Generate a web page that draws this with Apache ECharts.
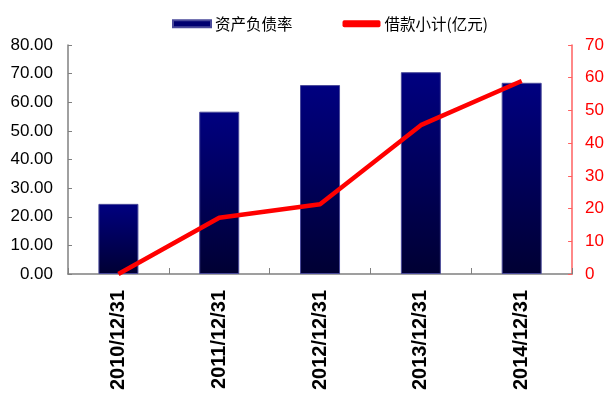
<!DOCTYPE html>
<html><head><meta charset="utf-8">
<script src="https://cdn.jsdelivr.net/npm/echarts@6/dist/echarts.min.js"></script>
<style>html,body{margin:0;padding:0;background:#fff}#c{width:607px;height:394px}</style>
</head><body><div id="c"></div>
<script>
const categories = ['2010/12/31','2011/12/31','2012/12/31','2013/12/31','2014/12/31'];
const debtRatio = [24.5, 56.7, 66.0, 70.5, 66.8];
const borrowing = [0, 17.2, 21.3, 45.5, 59.0];
const leftTicks = {min: 0, max: 80, interval: 10};
const rightTicks = {min: 0, max: 70, interval: 10};
const seriesNames = ['资产负债率', '借款小计(亿元)'];

const chart = echarts.init(document.getElementById('c'), null, {renderer: 'canvas'});
chart.setOption({
  animation: false,
  backgroundColor: '#ffffff',
  legend: {
    top: 11, left: 167, itemGap: 50, itemWidth: 38, itemHeight: 7,
    textStyle: {fontSize: 15.5, color: '#000', padding: [0, 0, 0, -1], fontFamily: '"Noto Sans CJK SC", sans-serif'},
    data: [
      {name: seriesNames[0], icon: 'rect', itemStyle: {color: '#000070'}},
      {name: seriesNames[1], icon: 'roundRect', itemStyle: {color: '#ff0000'}}
    ]
  },
  grid: {left: 68, right: 33, top: 45, bottom: 120, containLabel: false},
  xAxis: {
    type: 'category', data: categories, boundaryGap: true,
    axisLine: {lineStyle: {color: '#808080', width: 1.5}},
    axisTick: {show: true, inside: true, length: 6, interval: 0, lineStyle: {color: '#808080'}},
    axisLabel: {rotate: 90, interval: 0, margin: 16, fontSize: 20, fontWeight: 'bold', color: '#000', fontFamily: '"Liberation Sans", Arial, sans-serif'}
  },
  yAxis: [
    {
      type: 'value', min: leftTicks.min, max: leftTicks.max, interval: leftTicks.interval,
      axisLine: {show: true, lineStyle: {color: '#808080', width: 1.5}},
      axisTick: {show: true, inside: true, length: 4, lineStyle: {color: '#808080'}},
      splitLine: {show: false},
      axisLabel: {margin: 15, fontSize: 17, color: '#000', fontFamily: '"Liberation Sans", Arial, sans-serif',
        formatter: v => v.toFixed(2)}
    },
    {
      type: 'value', min: rightTicks.min, max: rightTicks.max, interval: rightTicks.interval, position: 'right',
      axisLine: {show: true, lineStyle: {color: '#ff6060', width: 1.5}},
      axisTick: {show: true, inside: true, length: 4, lineStyle: {color: '#ff6060'}},
      splitLine: {show: false},
      axisLabel: {margin: 13, fontSize: 17, color: '#ff0000', fontFamily: '"Liberation Sans", Arial, sans-serif'}
    }
  ],
  series: [
    {
      name: seriesNames[0], type: 'bar', yAxisIndex: 0, data: debtRatio, barWidth: 40,
      itemStyle: {
        color: new echarts.graphic.LinearGradient(0, 0, 0, 1, [
          {offset: 0, color: '#000080'}, {offset: 1, color: '#000033'}
        ]),
        borderColor: '#4a4a9a', borderWidth: 1
      }
    },
    {
      name: seriesNames[1], type: 'line', yAxisIndex: 1, data: borrowing,
      symbol: 'none', lineStyle: {color: '#ff0000', width: 4.5}, itemStyle: {color: '#ff0000'}
    }
  ]
});
</script></body></html>
